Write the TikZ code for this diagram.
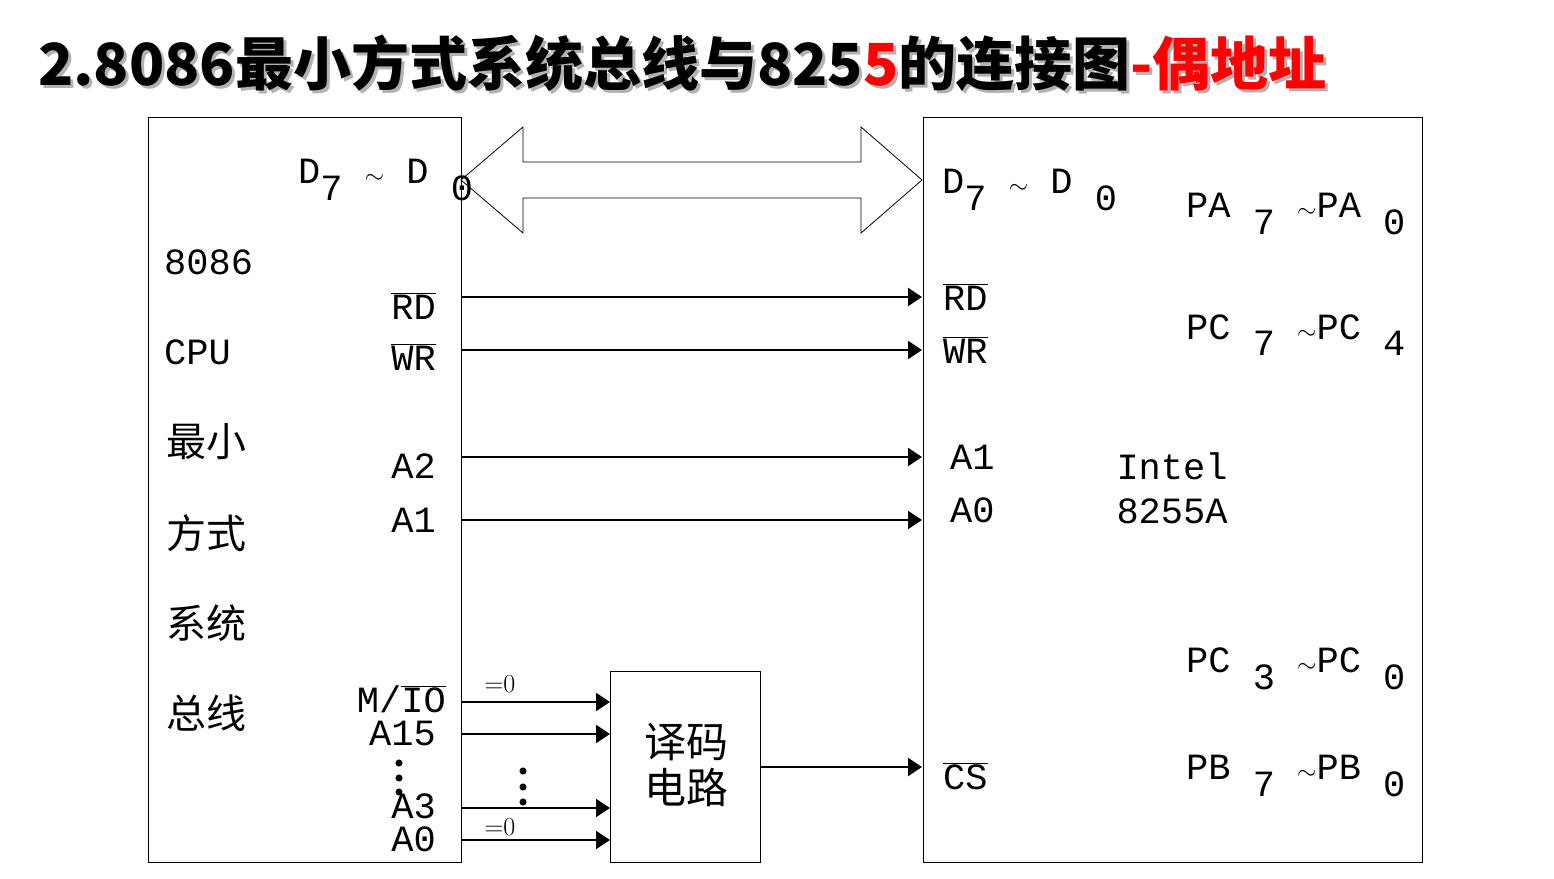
\documentclass[tikz,border=0pt]{standalone}
\usepackage{fontspec}
\newfontfamily\cjk{Noto Sans CJK SC}
\newfontfamily\pinfont{Liberation Mono}
\usetikzlibrary{arrows.meta,positioning}
\newcommand{\lo}[1]{\raisebox{-0.45em}{#1}}
\newcommand{\negsig}[1]{\ensuremath{\overline{\mbox{#1}}}}
\tikzset{
  box/.style={draw,line width=1pt},
  sig/.style={line width=2pt,-{Triangle[length=14pt,width=18pt]}},
  lbl/.style={font=\pinfont\fontsize{37}{40}\selectfont,inner sep=0pt},
  zh/.style={font=\cjk\fontsize{40}{44}\selectfont,inner sep=0pt},
  dot/.style={fill,circle,inner sep=2.5pt}
}
\begin{document}
\begin{tikzpicture}[x=1pt,y=-1pt]
\useasboundingbox (0,0) rectangle (1554,878);

% title
\node[anchor=west,font=\cjk\bfseries\fontsize{58}{60}\selectfont,text=gray!60,inner sep=0pt] at (41,66)
  {2.8086最小方式系统总线与8255的连接图-偶地址};
\node[anchor=west,font=\cjk\bfseries\fontsize{58}{60}\selectfont,inner sep=0pt] (title) at (38,63)
  {2.8086最小方式系统总线与825\textcolor{red}{5}的连接图\textcolor{red}{-偶地址}};

% boxes
\draw[box] (148,117) rectangle (461,862);
\draw[box] (923,117) rectangle (1422,862);
\draw[box] (610,671) rectangle (760,862);

% data bus
\draw[line width=0.8pt] (461,180) -- (523,127) -- (523,162) -- (861,162) -- (861,127)
  -- (922,180) -- (861,233) -- (861,198) -- (523,198) -- (523,233) -- cycle;

% cpu side
\node[lbl,anchor=west] (d70) at (298,180) {D\lo{7} $\sim$ D \lo{0}};
\node[lbl,anchor=west] (cpu1) at (164,262) {8086};
\node[lbl,anchor=west] (cpu2) at (164,352) {CPU};
\node[zh,anchor=west] (cpu3) at (166,442) {最小};
\node[zh,anchor=west] (cpu4) at (166,533) {方式};
\node[zh,anchor=west] (cpu5) at (166,623) {系统};
\node[zh,anchor=west] (cpu6) at (166,713) {总线};
\node[lbl,anchor=east] (rd) at (436,306) {\negsig{RD}};
\node[lbl,anchor=east] (wr) at (436,357) {\negsig{WR}};
\node[lbl,anchor=east] (a2) at (436,466) {A2};
\node[lbl,anchor=east] (a1) at (436,520) {A1};
\node[lbl,anchor=east] (mio) at (446,699) {M/\negsig{IO}};
\node[lbl,anchor=east] (a15) at (436,733) {A15};
\node[lbl,anchor=east] (a3) at (436,806) {A3};
\node[lbl,anchor=east] (a0) at (436,839) {A0};
\foreach \y [count=\i] in {763,778,792}
  \node[dot] (ld\i) at (399,\y) {};
\foreach \y [count=\i] in {771,787,802}
  \node[dot] (md\i) at (523,\y) {};
\node[font=\fontsize{26}{28}\selectfont,inner sep=0pt] (z1) at (500,684) {=0};
\node[font=\fontsize{26}{28}\selectfont,inner sep=0pt] (z2) at (500,827) {=0};

% 8255 side
\node[lbl,anchor=west] (pd70) at (942,190) {D\lo{7} $\sim$ D \lo{0}};
\node[lbl,anchor=west] (prd) at (943,297) {\negsig{RD}};
\node[lbl,anchor=west] (pwr) at (943,350) {\negsig{WR}};
\node[lbl,anchor=west] (pa1) at (950,457) {A1};
\node[lbl,anchor=west] (pa0) at (950,510) {A0};
\node[lbl,anchor=west] (pcs) at (943,776) {\negsig{CS}};
\node[lbl] (intel) at (1172,466) {Intel};
\node[lbl] (chip) at (1172,511) {8255A};
\node[lbl,anchor=west] (pa) at (1186,214) {PA \lo{7} $\sim$PA \lo{0}};
\node[lbl,anchor=west] (pch) at (1186,335) {PC \lo{7} $\sim$PC \lo{4}};
\node[lbl,anchor=west] (pcl) at (1186,669) {PC \lo{3} $\sim$PC \lo{0}};
\node[lbl,anchor=west] (pb) at (1186,776) {PB \lo{7} $\sim$PB \lo{0}};

% decoder
\node[zh,align=center,font=\cjk\fontsize{42}{46}\selectfont] (dec) at (686,765) {译码\\电路};

% connectors
\foreach \y/\n in {297/rd,350/wr,457/a2,520/a1}{
  \coordinate (s\n) at (461,\y);
  \coordinate (t\n) at (922,\y);
  \draw[sig] (s\n) -- (t\n);
}
\foreach \y/\n in {702/mio,734/a15,808/a3,840/a0}{
  \coordinate (s\n) at (461,\y);
  \coordinate (t\n) at (610,\y);
  \draw[sig] (s\n) -- (t\n);
}
\coordinate (scs) at (760,767);
\coordinate (tcs) at (922,767);
\draw[sig] (scs) -- (tcs);
\end{tikzpicture}
\end{document}
